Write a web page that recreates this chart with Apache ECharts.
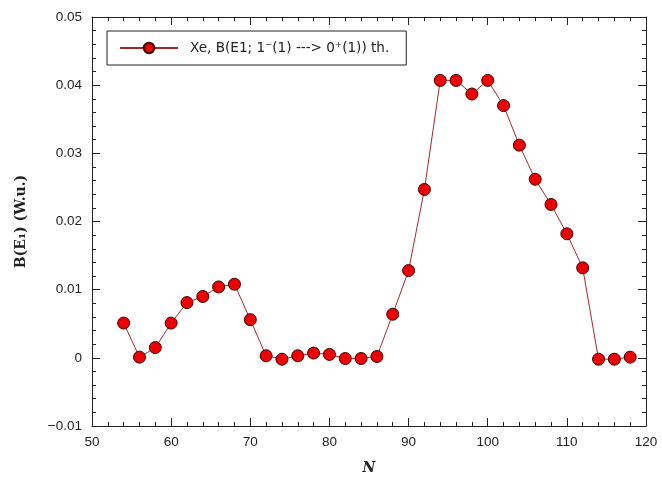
<!DOCTYPE html>
<html><head><meta charset="utf-8">
<script src="https://cdn.jsdelivr.net/npm/echarts@6/dist/echarts.min.js"></script>
<style>html,body{margin:0;padding:0;background:#fff}#c{width:662px;height:486px}</style>
</head><body><div id="c"></div>
<script>
const nValues = [54,56,58,60,62,64,66,68,70,72,74,76,78,80,82,84,86,88,90,92,94,96,98,100,102,104,106,108,110,112,114,116,118];
const bE1 = [0.0051,0.0001,0.0015,0.0051,0.0081,0.0090,0.0104,0.0108,0.0056,0.0003,-0.0002,0.0003,0.0007,0.0005,-0.0001,-0.0001,0.0002,0.0064,0.0128,0.0247,0.0407,0.0407,0.0387,0.0407,0.0370,0.0312,0.0262,0.0225,0.0182,0.0132,-0.0002,-0.0002,0.0001];
const seriesName = 'Xe, B(E1; 1\u207B(1) ---> 0\u207A(1)) th.';
const xTicks = {min:50, max:120, interval:10};
const yTicks = {min:-0.01, max:0.05, interval:0.01};

const chart = echarts.init(document.getElementById('c'), null, {renderer:'canvas'});
const axisCol = '#222';
const labelFont = {color:'#222', fontFamily:'Liberation Sans', fontSize:13.5};
function baseAxis(extra){
  return Object.assign({
    axisLine:{show:true, onZero:false, lineStyle:{color:axisCol, width:1}},
    axisTick:{show:true, inside:true, length:8, lineStyle:{color:axisCol}},
    minorTick:{show:true, splitNumber:5, length:4, lineStyle:{color:axisCol}},
    splitLine:{show:false}
  }, extra);
}
chart.setOption({
  animation:false,
  backgroundColor:'#fff',
  grid:{left:92, right:16, top:17, bottom:60, containLabel:false},
  legend:{
    left:107, top:31, orient:'horizontal',
    data:[seriesName],
    itemWidth:58, itemHeight:13,
    borderColor:'#222', borderWidth:1, borderRadius:0,
    padding:[10,17,10,12],
    textStyle:{fontFamily:'DejaVu Sans', fontSize:13.6, color:'#222', padding:[0,0,0,7]}
  },
  xAxis:[
    baseAxis({type:'value', position:'bottom', min:xTicks.min, max:xTicks.max, interval:xTicks.interval,
      axisLabel:Object.assign({margin:9}, labelFont),
      name:'N', nameLocation:'middle', nameGap:35,
      nameTextStyle:{fontFamily:'DejaVu Serif', fontStyle:'italic', fontWeight:'bold', fontSize:14, color:'#222'}}),
    baseAxis({type:'value', position:'top', min:xTicks.min, max:xTicks.max, interval:xTicks.interval,
      axisLabel:{show:false}})
  ],
  yAxis:[
    baseAxis({type:'value', position:'left', min:yTicks.min, max:yTicks.max, interval:yTicks.interval,
      axisLabel:Object.assign({margin:10, formatter:v=>{const r=Math.round(v*100)/100; return r===0?'0':r.toFixed(2).replace('-','\u2212');}}, labelFont),
      name:'B(E\u2081) (W.u.)', nameLocation:'middle', nameGap:64, nameRotate:90,
      nameTextStyle:{fontFamily:'DejaVu Serif', fontWeight:'bold', fontSize:14, color:'#222'}}),
    baseAxis({type:'value', position:'right', min:yTicks.min, max:yTicks.max, interval:yTicks.interval,
      axisLabel:{show:false}})
  ],
  series:[{
    name:seriesName, type:'line',
    data:nValues.map((n,i)=>[n,bE1[i]]),
    symbol:'circle', symbolSize:12,
    lineStyle:{color:'#a82828', width:1},
    itemStyle:{color:'#ee0000', borderColor:'#3a0000', borderWidth:1},
    emphasis:{disabled:true}
  }]
});
</script></body></html>
